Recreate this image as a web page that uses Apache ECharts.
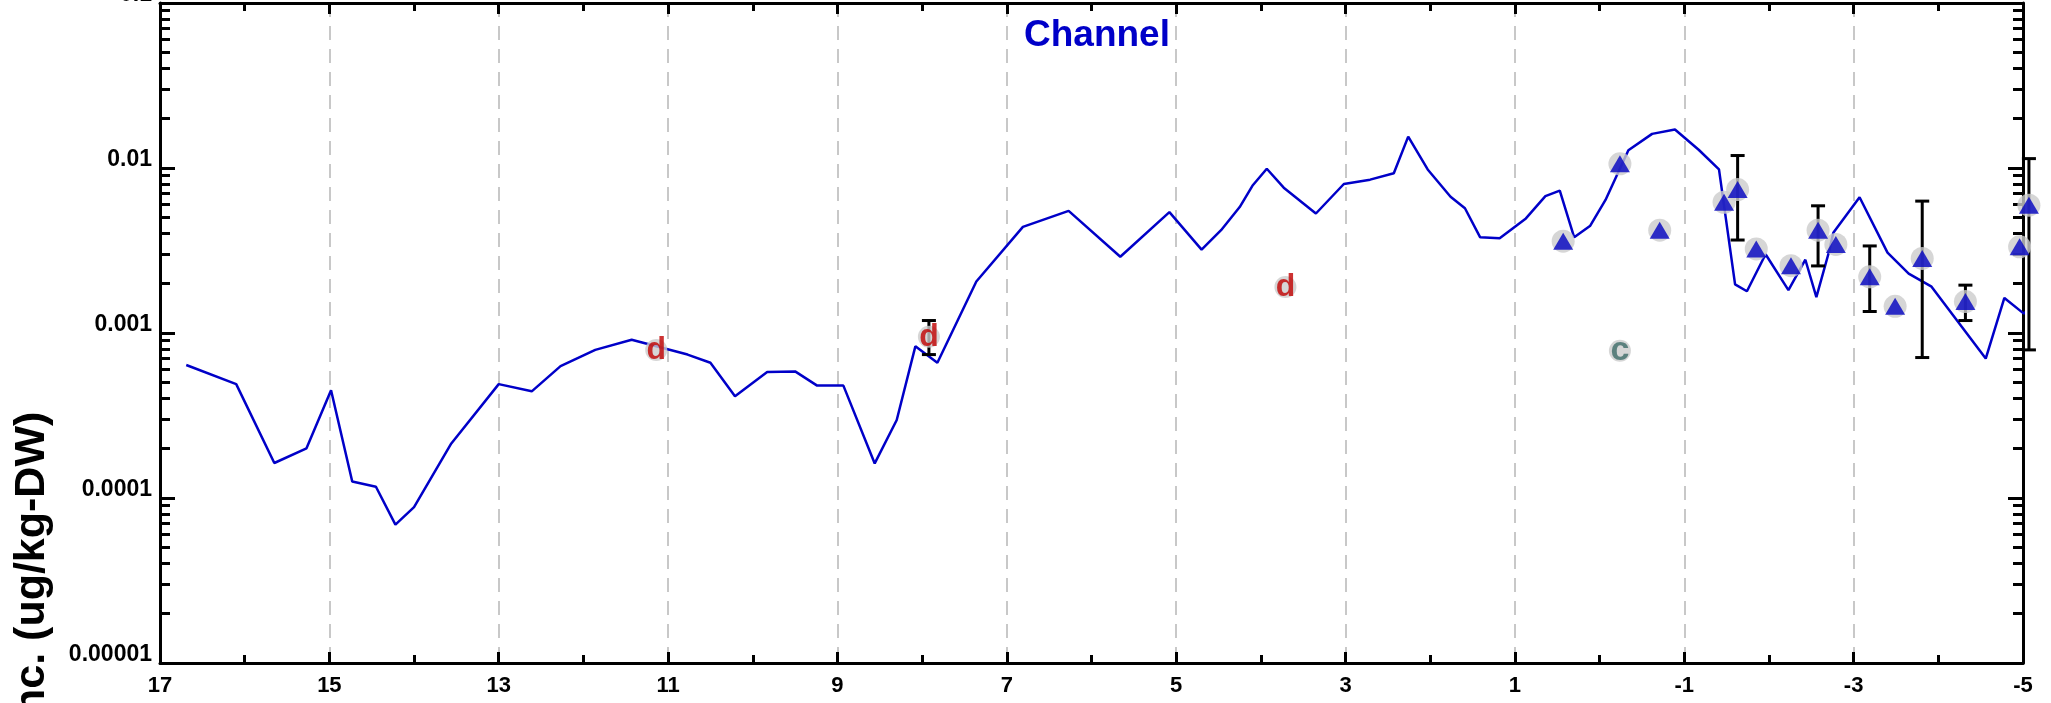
<!DOCTYPE html>
<html><head><meta charset="utf-8">
<script src="https://cdn.jsdelivr.net/npm/echarts@6/dist/echarts.min.js"></script>
<style>html,body{margin:0;padding:0;background:#fff}#c{width:2051px;height:703px}</style>
</head><body><div id="c"></div>
<script>
// ---- data ----
const lineX = [16.69, 16.10, 15.65, 15.27, 14.98, 14.73, 14.45, 14.22, 14.00, 13.56, 13.00, 12.61, 12.27, 11.86, 11.43, 10.77, 10.50, 10.21, 9.83, 9.50, 9.24, 8.93, 8.56, 8.30, 8.08, 7.82, 7.36, 6.81, 6.27, 5.66, 5.08, 4.70, 4.47, 4.25, 4.10, 3.93, 3.73, 3.35, 3.02, 2.71, 2.43, 2.26, 2.03, 1.76, 1.59, 1.41, 1.18, 0.87, 0.64, 0.47, 0.30, 0.11, -0.07, -0.34, -0.62, -0.89, -1.17, -1.41, -1.60, -1.74, -1.96, -2.23, -2.43, -2.56, -2.71, -2.76, -3.07, -3.40, -3.65, -3.92, -4.56, -4.78, -5.01, -5.16];
const lineY = [6.4e-4, 4.9e-4, 1.63e-4, 2.0e-4, 4.5e-4, 1.26e-4, 1.17e-4, 6.9e-5, 8.8e-5, 2.14e-4, 4.9e-4, 4.43e-4, 6.3e-4, 7.9e-4, 9.1e-4, 7.4e-4, 6.6e-4, 4.14e-4, 5.8e-4, 5.85e-4, 4.8e-4, 4.8e-4, 1.62e-4, 2.97e-4, 8.3e-4, 6.6e-4, 2.05e-3, 4.4e-3, 5.5e-3, 2.9e-3, 5.4e-3, 3.2e-3, 4.2e-3, 5.8e-3, 7.8e-3, 9.9e-3, 7.6e-3, 5.3e-3, 8.0e-3, 8.5e-3, 9.3e-3, 0.0155, 9.8e-3, 6.7e-3, 5.7e-3, 3.8e-3, 3.75e-3, 4.95e-3, 6.75e-3, 7.3e-3, 3.8e-3, 4.47e-3, 6.4e-3, 0.0128, 0.0161, 0.0171, 0.0129, 9.8e-3, 1.97e-3, 1.79e-3, 3.0e-3, 1.82e-3, 2.78e-3, 1.65e-3, 3.12e-3, 4.05e-3, 6.65e-3, 3.07e-3, 2.29e-3, 1.91e-3, 7.0e-4, 1.63e-3, 1.31e-3, 1.56e-3];

const triX = [0.43, -0.24, -0.71, -1.47, -1.63, -1.85, -2.26, -2.58, -2.79, -3.19, -3.49, -3.81, -4.32, -4.96, -5.07];
const triY = [3.6e-3, 0.0106, 4.2e-3, 6.2e-3, 7.4e-3, 3.23e-3, 2.56e-3, 4.2e-3, 3.44e-3, 2.19e-3, 1.45e-3, 2.83e-3, 1.55e-3, 3.33e-3, 5.95e-3];

const dX = [11.14, 7.92, 3.71];
const dY = [7.9e-4, 9.5e-4, 1.9e-3];

const cX = [-0.24];
const cY = [7.8e-4];

const errX = [7.92, -1.63, -2.58, -3.19, -3.81, -4.32, -5.07];
const errLow = [7.4e-4, 3.66e-3, 2.55e-3, 1.35e-3, 7.1e-4, 1.19e-3, 7.9e-4];
const errHigh = [1.19e-3, 0.0119, 5.9e-3, 3.37e-3, 6.3e-3, 1.95e-3, 0.0114];

const yTickLabels = ['0.00001', '0.0001', '0.001', '0.01', '0.1'];
const titleText = 'Channel';
const yTitle = 'Conc. (ug/kg-DW)';

// ---- chart ----
const FONT = '"Liberation Sans", Arial, sans-serif';
const BLUE = '#0000c8';
const minorVals = [];
for (let d = -5; d <= -2; d++) for (let k = 2; k <= 9; k++) minorVals.push(Math.log10(k) + d);

const tickStyle = {color: '#000', width: 3};
function logAxis(pos, showLabel) {
  return {
    type: 'log', logBase: 10, min: 1e-5, max: 0.1, position: pos,
    axisLine: {show: true, onZero: false, lineStyle: {color: '#000', width: 3}},
    axisTick: {show: true, inside: true, length: 15, lineStyle: tickStyle},
    axisLabel: {show: showLabel, margin: 8, verticalAlign: 'bottom', lineHeight: 16, fontSize: 23, fontWeight: 'bold', color: '#000', fontFamily: FONT,
      formatter: v => yTickLabels[Math.round(Math.log10(v)) + 5]},
    splitLine: {show: false}
  };
}
function minorAxis(pos) {
  return {
    type: 'value', min: -5, max: -1, position: pos,
    axisLine: {show: false, onZero: false},
    axisTick: {show: true, inside: true, length: 10, customValues: minorVals, lineStyle: tickStyle},
    axisLabel: {show: false},
    splitLine: {show: false}
  };
}
function xAx(pos, main) {
  return {
    type: 'value', inverse: true, min: -5, max: 17, interval: 2, position: pos,
    axisLine: {show: true, onZero: false, lineStyle: {color: '#000', width: 3}},
    axisTick: {show: true, inside: true, length: 11, lineStyle: tickStyle},
    minorTick: {show: true, splitNumber: 2, length: 8, lineStyle: tickStyle},
    axisLabel: {show: main, margin: 12, fontSize: 22, fontWeight: 'bold', color: '#000', fontFamily: FONT, formatter: v => String(v)},
    splitLine: {show: main, lineStyle: {color: '#c8c8c8', width: 2, type: [14, 9]}}
  };
}

const chart = echarts.init(document.getElementById('c'), null, {renderer: 'canvas'});
chart.setOption({
  animation: false,
  backgroundColor: '#fff',
  title: {text: titleText, left: 1092, top: 12, textAlign: 'center',
    textStyle: {fontSize: 37, fontWeight: 'bold', color: BLUE, fontFamily: FONT}},
  grid: {left: 160, right: 28, top: 3, bottom: 40, containLabel: false, outerBoundsMode: 'none'},
  xAxis: [xAx('bottom', true), xAx('top', false)],
  yAxis: [logAxis('left', true), minorAxis('left'), logAxis('right', false), minorAxis('right')],
  graphic: [{type: 'text', x: 32, y: 592, rotation: Math.PI / 2,
    style: {text: yTitle, font: 'bold 43px ' + FONT, fill: '#000', align: 'center', verticalAlign: 'middle'}}],
  series: [
    {type: 'line', name: 'model', data: lineX.map((x, i) => [x, lineY[i]]), showSymbol: false, symbol: 'none',
     clip: false, lineStyle: {color: BLUE, width: 2.5}, z: 2},
    {type: 'custom', name: 'err', clip: false, z: 3,
     data: errX.map((x, i) => [x, errLow[i], errHigh[i]]),
     encode: {x: 0, y: [1, 2]},
     renderItem: function (params, api) {
       const x = api.value(0);
       const p1 = api.coord([x, api.value(1)]);
       const p2 = api.coord([x, api.value(2)]);
       const w = 7;
       const st = {stroke: '#000', lineWidth: 3};
       return {type: 'group', children: [
         {type: 'line', shape: {x1: p1[0], y1: p1[1], x2: p2[0], y2: p2[1]}, style: st},
         {type: 'line', shape: {x1: p1[0] - w, y1: p1[1], x2: p1[0] + w, y2: p1[1]}, style: st},
         {type: 'line', shape: {x1: p2[0] - w, y1: p2[1], x2: p2[0] + w, y2: p2[1]}, style: st}
       ]};
     }},
    {type: 'scatter', name: 'triBg', clip: false, z: 4, symbol: 'circle', symbolSize: 23,
     itemStyle: {color: '#cccccc'}, data: triX.map((x, i) => [x, triY[i]])},
    {type: 'scatter', name: 'tri', clip: false, z: 5, symbol: 'triangle', symbolSize: [20, 17],
     itemStyle: {color: '#0000c0'}, data: triX.map((x, i) => [x, triY[i]])},
    {type: 'scatter', name: 'd', clip: false, z: 5, symbol: 'circle', symbolSize: 22,
     itemStyle: {color: '#cccccc'}, data: dX.map((x, i) => [x, dY[i]]),
     label: {show: true, position: 'inside', formatter: 'd', color: '#c00000', fontSize: 32, fontWeight: 'bold', fontFamily: FONT}},
    {type: 'scatter', name: 'c', clip: false, z: 5, symbol: 'circle', symbolSize: 22,
     itemStyle: {color: '#cccccc'}, data: cX.map((x, i) => [x, cY[i]]),
     label: {show: true, position: 'inside', formatter: 'c', color: '#3d6b68', fontSize: 34, fontWeight: 'bold', fontFamily: FONT}}
  ]
});
</script></body></html>
